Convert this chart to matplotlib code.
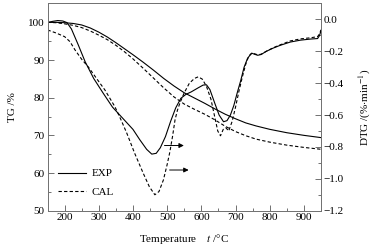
import matplotlib
matplotlib.use('Agg')
import matplotlib.pyplot as plt
from matplotlib.ticker import MultipleLocator

plt.rcParams['font.family'] = ['Liberation Serif', 'DejaVu Serif']
plt.rcParams['mathtext.fontset'] = 'stix'
plt.rcParams['font.size'] = 8

# TG curves (left axis)
tg_t = [150, 175, 200, 225, 250, 275, 300, 325, 350, 375, 400, 430, 460, 490, 520,
        550, 580, 610, 640, 670, 700, 730, 760, 800, 850, 900, 950]
tg_exp = [100, 100, 99.9, 99.7, 99.3, 98.5, 97.4, 96.1, 94.6, 93.0, 91.4, 89.4, 87.3,
          85.1, 83.1, 81.3, 79.9, 78.5, 77.0, 75.6, 74.4, 73.3, 72.5, 71.6, 70.7, 70.0, 69.4]
tg_cal = [100, 99.9, 99.6, 99.2, 98.6, 97.7, 96.6, 95.4, 93.9, 92.2, 90.3, 87.8, 85.2,
          82.6, 80.2, 78.3, 76.9, 75.6, 74.1, 72.4, 71.0, 69.9, 69.0, 68.2, 67.4, 66.8, 66.3]

# DTG curves (right axis)
dtg_exp_t = [150, 165, 180, 195, 207, 220, 240, 260, 285, 312, 340, 370, 400, 420, 440,
             455, 468, 480, 495, 510, 525, 540, 555, 570, 590, 605, 615, 625, 640, 652,
             665, 675, 685, 695, 705, 715, 725, 735, 742, 748, 755, 765, 775, 790, 810,
             830, 860, 890, 920, 940, 946, 950]
dtg_exp = [-0.020, -0.012, -0.007, -0.010, -0.020, -0.06, -0.16, -0.265, -0.37, -0.46,
           -0.55, -0.62, -0.69, -0.755, -0.815, -0.845, -0.84, -0.805, -0.735, -0.64,
           -0.555, -0.495, -0.47, -0.455, -0.43, -0.412, -0.41, -0.44, -0.53, -0.60,
           -0.642, -0.635, -0.60, -0.54, -0.46, -0.385, -0.30, -0.245, -0.225, -0.212,
           -0.218, -0.225, -0.22, -0.20, -0.18, -0.163, -0.142, -0.13, -0.123, -0.12,
           -0.10, -0.07]
dtg_cal_t = [150, 175, 200, 216, 230, 250, 270, 295, 318, 347, 365, 382, 405, 430, 448,
             464, 476, 489, 500, 508, 516, 523, 530, 537, 550, 565, 580, 591, 603, 615,
             628, 640, 648, 656, 664, 672, 680, 690, 700, 710, 720, 730, 737, 743, 748,
             755, 765, 775, 790, 810, 830, 860, 890, 920, 940, 946, 950]
dtg_cal = [-0.066, -0.085, -0.108, -0.14, -0.19, -0.25, -0.30, -0.375, -0.443, -0.547,
           -0.63, -0.714, -0.84, -0.965, -1.05, -1.10, -1.08, -1.007, -0.91, -0.83,
           -0.73, -0.63, -0.57, -0.526, -0.46, -0.40, -0.37, -0.36, -0.375, -0.42,
           -0.50, -0.62, -0.70, -0.73, -0.69, -0.68, -0.70, -0.64, -0.55, -0.45, -0.36,
           -0.28, -0.24, -0.22, -0.21, -0.215, -0.222, -0.218, -0.20, -0.178, -0.16,
           -0.135, -0.122, -0.115, -0.108, -0.09, -0.065]

fig = plt.figure(figsize=(3.78, 2.46), dpi=100)
ax = fig.add_axes([0.1257, 0.1435, 0.7235, 0.8423])
ax2 = ax.twinx()

ax.plot(tg_t, tg_exp, 'k-', lw=0.8, label='EXP')
ax.plot(tg_t, tg_cal, 'k--', lw=0.8, dashes=(3, 2), label='CAL')
ax2.plot(dtg_exp_t, dtg_exp, 'k-', lw=0.8)
ax2.plot(dtg_cal_t, dtg_cal, 'k--', lw=0.8, dashes=(3, 2))

ax.set_xlim(150, 950)
ax.set_ylim(50, 105)
ax2.set_ylim(-1.2, 0.1)

ax.xaxis.set_major_locator(MultipleLocator(100))
ax.xaxis.set_minor_locator(MultipleLocator(50))
ax.yaxis.set_major_locator(MultipleLocator(10))
ax.yaxis.set_minor_locator(MultipleLocator(5))
ax2.yaxis.set_major_locator(MultipleLocator(0.2))
ax2.yaxis.set_minor_locator(MultipleLocator(0.1))
ax2.yaxis.set_major_formatter(plt.FuncFormatter(lambda v, p: f'{v:.1f}'.replace('-', '\u2212')))

for a in (ax, ax2):
    a.tick_params(which='both', direction='in', labelsize=8, width=0.6, colors='0.35',
                  labelcolor='black', pad=2)
    a.tick_params(which='major', length=4)
    a.tick_params(which='minor', length=2)
    for s in a.spines.values():
        s.set_color('0.45')
        s.set_linewidth(0.7)
ax.tick_params(axis='x', which='both', top=False)

ax.set_xlabel('Temperature    $t$ /\u00b0C', fontsize=8, labelpad=7)
ax.set_ylabel('TG /%', fontsize=8, labelpad=8)
ax2.set_ylabel('DTG /(%$\\cdot$min$^{-1}$)', fontsize=8, labelpad=10)

arrow = dict(arrowstyle='-|>', color='k', lw=0.7, mutation_scale=7)
ax.annotate('', xy=(557, 67.3), xytext=(484, 67.3), arrowprops=arrow)
ax.annotate('', xy=(571, 60.8), xytext=(499, 60.8), arrowprops=arrow)

ax.legend(loc='lower left', bbox_to_anchor=(0.0, 0.02), frameon=False, fontsize=8,
          handlelength=2.6, handletextpad=0.5, labelspacing=0.75, borderaxespad=0.5)

fig.savefig('out.png', dpi=100)
